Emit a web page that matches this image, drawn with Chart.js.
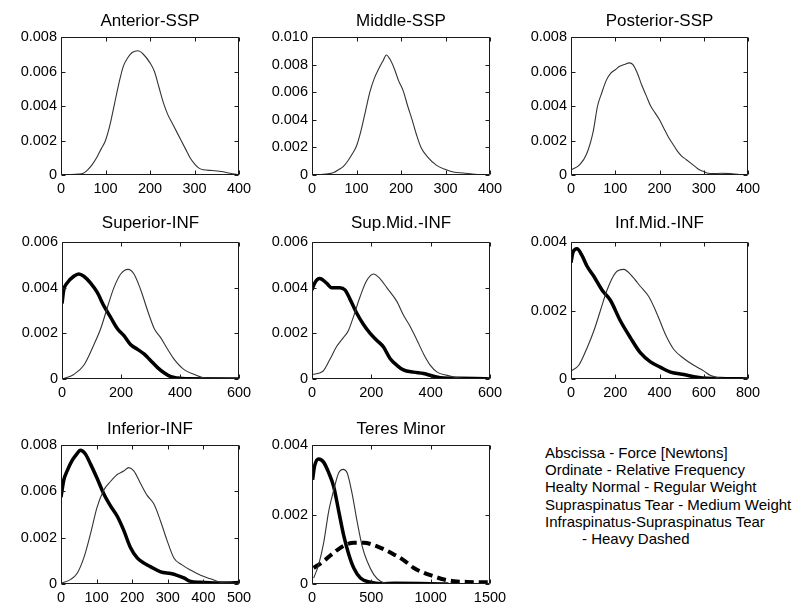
<!DOCTYPE html>
<html>
<head>
<meta charset="utf-8">
<script src="https://cdn.jsdelivr.net/npm/chart.js@4.4.1/dist/chart.umd.min.js"></script>
<style>
    html, body { margin: 0; padding: 0; background: #fff; }
    body { width: 800px; height: 611px; position: relative; overflow: hidden;
           font-family: "Liberation Sans", Arial, sans-serif; }
    canvas { position: absolute; }
    #notes { position: absolute; left: 545px; top: 444px; font-size: 15px; line-height: 17.2px; color: #000; white-space: nowrap; }
    #notes .indent { padding-left: 37px; }
</style>
</head>
<body>
<div id="notes">
    <div>Abscissa - Force [Newtons]</div>
    <div>Ordinate - Relative Frequency</div>
    <div>Healty Normal - Regular Weight</div>
    <div>Supraspinatus Tear - Medium Weight</div>
    <div>Infraspinatus-Supraspinatus Tear</div>
    <div class="indent">- Heavy Dashed</div>
</div>
<script>
// Tick values & labels
const xTicks400 = [0, 100, 200, 300, 400];
const xTicks500 = [0, 100, 200, 300, 400, 500];
const xTicks600 = [0, 200, 400, 600];
const xTicks800 = [0, 200, 400, 600, 800];
const xTicks1500 = [0, 500, 1000, 1500];
const yTicks004 = [0, .002, .004];
const yLabels004 = ['0', '0.002', '0.004'];
const yTicks006 = [0, .002, .004, .006];
const yLabels006 = ['0', '0.002', '0.004', '0.006'];
const yTicks008 = [0, .002, .004, .006, .008];
const yLabels008 = ['0', '0.002', '0.004', '0.006', '0.008'];
const yTicks010 = [0, .002, .004, .006, .008, .010];
const yLabels010 = ['0', '0.002', '0.004', '0.006', '0.008', '0.010'];
// Inferior-INF axis as printed: four evenly spaced ticks
const yTicksInf = [0, .00267, .00533, .008];
const yLabelsInf = ['0', '0.002', '0.006', '0.008'];

// Anterior-SSP
const antX = [15, 40, 50, 60, 70, 80, 90, 100, 110, 120, 130, 140, 150, 160, 173, 185, 200, 210, 220, 230, 240, 250, 260, 270, 280, 290, 300, 310, 320, 340, 360, 380, 400];
const antY = [.00003, .00005, .0001, .0003, .0006, .001, .0015, .002, .0029, .0041, .0053, .0063, .0068, .0071, .0072, .007, .0065, .006, .0051, .0042, .0035, .003, .0025, .002, .0015, .001, .00065, .0004, .0003, .00026, .0002, .0001, .00002];
// Middle-SSP
const midX = [0, 20, 40, 50, 60, 70, 80, 90, 100, 110, 120, 130, 140, 150, 160, 167, 175, 185, 195, 205, 215, 225, 235, 245, 260, 280, 300, 320, 340, 360, 380];
const midY = [.00002, .00003, .0001, .0002, .0004, .0006, .001, .0015, .0021, .0032, .0046, .006, .007, .0077, .0083, .0087, .0084, .0077, .0068, .0061, .005, .004, .0029, .002, .0013, .0007, .0004, .0002, .00015, .00007, .00001];
// Posterior-SSP
const posX = [0, 20, 35, 50, 60, 70, 80, 90, 100, 110, 120, 132, 140, 150, 160, 170, 180, 190, 200, 210, 220, 230, 240, 250, 260, 270, 280, 290, 300, 310, 320, 340, 360, 380, 400];
const posY = [.0003, .0006, .0012, .0025, .004, .0048, .0055, .0059, .0061, .0063, .0064, .0065, .0064, .0059, .0052, .0046, .004, .0036, .0032, .0027, .0022, .0018, .0014, .0011, .0009, .0007, .0005, .0003, .0002, .0001, .00008, .0001, .00008, .00003, .00001];

// Superior-INF
const supNormX = [0, 40, 74, 108, 131, 153, 176, 199, 224, 244, 267, 290, 313, 335, 358, 381, 415, 449, 483, 520, 600];
const supNormY = [0, .0002, .0006, .0015, .0022, .0031, .004, .0046, .0048, .0046, .0039, .003, .0022, .0018, .0013, .00085, .0004, .0002, .00004, 0, 0];
const supTearX = [0, 6, 17, 40, 57, 74, 97, 119, 142, 165, 188, 210, 233, 256, 278, 301, 324, 347, 369, 392, 420, 600];
const supTearY = [.0033, .0039, .0042, .0045, .0046, .0045, .0042, .0038, .0032, .0027, .0022, .0019, .0015, .0013, .0011, .0008, .0005, .00026, .0001, .00004, .00001, 0];
// Sup.Mid.-INF
const smNormX = [0, 37, 60, 82, 105, 122, 139, 162, 184, 207, 229, 252, 286, 308, 331, 354, 376, 399, 422, 455, 500, 550, 600];
const smNormY = [.0002, .00034, .00085, .0014, .0018, .0021, .0027, .0036, .0043, .0046, .0044, .004, .0034, .0028, .0023, .0017, .0011, .0006, .0003, .00016, .00004, .00001, 0];
const smTearX = [0, 9, 26, 49, 66, 94, 111, 128, 150, 173, 196, 218, 241, 263, 286, 308, 342, 376, 410, 444, 500, 550, 600];
const smTearY = [.0039, .0042, .0044, .0042, .004, .004, .0039, .0035, .0029, .0024, .002, .0017, .0014, .0009, .0006, .0004, .0003, .00024, .00012, .00004, .00003, .00002, 0];
// Inf.Mid.-INF
const imNormX = [0, 35, 72, 103, 133, 163, 201, 238, 276, 314, 352, 389, 427, 465, 510, 555, 601, 631, 676, 720, 800];
const imNormY = [.00023, .0004, .0009, .0014, .002, .0026, .0031, .0032, .003, .0027, .0024, .0019, .0013, .00086, .0006, .0004, .00023, .0001, .00003, 0, 0];
const imTearX = [0, 9, 27, 50, 72, 103, 140, 178, 223, 269, 314, 359, 405, 450, 510, 571, 616, 700, 800];
const imTearY = [.0034, .0037, .0038, .0036, .0033, .003, .0026, .0023, .0017, .0012, .00076, .0005, .00034, .0002, .00013, .00005, .00002, .00001, 0];
// Inferior-INF
const infNormX = [3, 26, 45, 64, 83, 101, 120, 139, 158, 176, 190, 205, 223, 242, 261, 280, 298, 317, 340, 364, 392, 420, 448, 486, 500];
const infNormY = [.00006, .00025, .0006, .0015, .0029, .0044, .0054, .0059, .0063, .0065, .0067, .0065, .0058, .0051, .0046, .0036, .0025, .0015, .0011, .0008, .0005, .0003, .0001, .00004, .00003];
const infTearX = [0, 8, 17, 31, 45, 54, 68, 83, 101, 120, 139, 158, 176, 195, 214, 233, 251, 280, 308, 326, 345, 364, 392, 429, 467, 500];
const infTearY = [.005, .006, .0065, .0071, .0075, .0077, .0075, .0069, .0061, .0052, .0045, .0039, .0031, .0021, .0015, .0012, .001, .0007, .0006, .0005, .00035, .00015, .0001, .00006, .00006, .00008];
// Teres Minor
const trNormX = [14, 56, 99, 141, 183, 225, 262, 296, 338, 380, 422, 464, 521, 577, 633, 800, 1150];
const trNormY = [.00017, .00056, .0012, .0021, .0027, .0032, .0033, .0032, .0026, .0018, .0011, .00066, .00027, .00008, .00002, 0, 0];
const trTearX = [5, 22, 56, 99, 141, 183, 225, 267, 310, 352, 408, 493, 577, 700, 1150];
const trTearY = [.003, .0034, .0036, .0035, .0032, .0028, .0021, .0014, .00085, .00046, .00017, .00005, .00001, .00002, 0];
const trBothX = [14, 99, 183, 267, 352, 436, 521, 605, 690, 774, 858, 943, 1027, 1112, 1196, 1309, 1421, 1500];
const trBothY = [.00046, .00066, .0009, .0011, .00119, .00119, .00112, .001, .00085, .00068, .00046, .00032, .00022, .00013, .00008, .00006, .00005, .00005];

// Layout
const YW = 60, PR = 26, PT = 40, XH = 30;
const FONT = '"Liberation Sans", Arial, sans-serif';
const STYLE = {
    thin: { borderColor: '#333', borderWidth: 1.1 },
    thick: { borderColor: '#000', borderWidth: 3.5 },
    dash: { borderColor: '#000', borderWidth: 4, borderDash: [9, 5] }
};

const PANELS = [
    { title: 'Anterior-SSP', box: [61, 37, 238, 174], gap: 15.5, xt: xTicks400, yt: yTicks008, yl: yLabels008, series: [[antX, antY, 'thin']] },
    { title: 'Middle-SSP', box: [312, 37, 489, 174], gap: 15.5, xt: xTicks400, yt: yTicks010, yl: yLabels010, series: [[midX, midY, 'thin']] },
    { title: 'Posterior-SSP', box: [571, 37, 747, 174], gap: 15.5, xt: xTicks400, yt: yTicks008, yl: yLabels008, series: [[posX, posY, 'thin']] },
    { title: 'Superior-INF', box: [62, 242, 238, 378], gap: 18.5, xt: xTicks600, yt: yTicks006, yl: yLabels006,
      series: [[supNormX, supNormY, 'thin'], [supTearX, supTearY, 'thick']] },
    { title: 'Sup.Mid.-INF', box: [312, 242, 489, 378], gap: 18.5, xt: xTicks600, yt: yTicks006, yl: yLabels006,
      series: [[smNormX, smNormY, 'thin'], [smTearX, smTearY, 'thick']] },
    { title: 'Inf.Mid.-INF', box: [571, 242, 747, 378], gap: 18.5, xt: xTicks800, yt: yTicks004, yl: yLabels004,
      series: [[imNormX, imNormY, 'thin'], [imTearX, imTearY, 'thick']] },
    { title: 'Inferior-INF', box: [61, 445, 238, 583], gap: 16, xt: xTicks500, yt: yTicksInf, yl: yLabelsInf,
      series: [[infNormX, infNormY, 'thin'], [infTearX, infTearY, 'thick']] },
    { title: 'Teres Minor', box: [312, 445, 489, 583], gap: 16, xt: xTicks1500, yt: yTicks004, yl: yLabels004,
      series: [[trNormX, trNormY, 'thin'], [trTearX, trTearY, 'thick'], [trBothX, trBothY, 'dash']] }
];

const pts = (xs, ys) => xs.map((x, i) => ({ x, y: ys[i] }));

// Matlab-style box with inward ticks on all sides + title
const boxPlugin = {
    id: 'box',
    afterDraw(chart, _, o) {
        const { ctx, chartArea: a, scales: { x, y } } = chart;
        const l = a.left + .5, r = a.right - .5, t = a.top + .5, b = a.bottom - .5;
        ctx.save();
        ctx.strokeStyle = '#1a1a1a';
        ctx.lineWidth = 1;
        ctx.beginPath();
        ctx.rect(l, t, r - l, b - t);
        x.ticks.forEach(tk => {
            const p = Math.round(x.getPixelForValue(tk.value)) + .5;
            ctx.moveTo(p, b); ctx.lineTo(p, b - 4);
            ctx.moveTo(p, t); ctx.lineTo(p, t + 4);
        });
        y.ticks.forEach(tk => {
            const p = Math.round(y.getPixelForValue(tk.value)) + .5;
            ctx.moveTo(l, p); ctx.lineTo(l + 4, p);
            ctx.moveTo(r, p); ctx.lineTo(r - 4, p);
        });
        ctx.stroke();
        ctx.fillStyle = '#000';
        ctx.font = `17px ${FONT}`;
        ctx.textAlign = 'center';
        ctx.textBaseline = 'middle';
        ctx.fillText(o.text, (a.left + a.right) / 2, a.top - o.gap);
        ctx.restore();
    }
};

PANELS.forEach(p => {
    const [L, T, R, B] = p.box;
    const W = R + 1 - L, H = B + 1 - T;
    const cv = document.createElement('canvas');
    cv.width = YW + W + PR;
    cv.height = PT + H + XH;
    cv.style.left = (L - YW) + 'px';
    cv.style.top = (T - PT) + 'px';
    document.body.appendChild(cv);

    const tickFont = { family: FONT, size: 14.5 };
    new Chart(cv, {
        type: 'line',
        data: {
            datasets: p.series.map(([xs, ys, st]) => ({
                data: pts(xs, ys), ...STYLE[st],
                pointRadius: 0, fill: false, cubicInterpolationMode: 'monotone'
            }))
        },
        options: {
            responsive: false,
            animation: false,
            devicePixelRatio: 1,
            layout: { padding: { top: PT, right: PR, left: 0, bottom: 0 } },
            plugins: {
                legend: { display: false },
                tooltip: { enabled: false },
                box: { text: p.title, gap: p.gap }
            },
            scales: {
                x: {
                    type: 'linear', min: p.xt[0], max: p.xt[p.xt.length - 1],
                    grid: { display: false, drawTicks: false },
                    border: { display: false },
                    afterBuildTicks: s => { s.ticks = p.xt.map(value => ({ value })); },
                    afterFit: s => { s.height = XH; },
                    ticks: { padding: 5, color: '#000', font: tickFont, maxRotation: 0, autoSkip: false, callback: v => String(v) }
                },
                y: {
                    type: 'linear', min: 0, max: p.yt[p.yt.length - 1],
                    grid: { display: false, drawTicks: false },
                    border: { display: false },
                    afterBuildTicks: s => { s.ticks = p.yt.map(value => ({ value })); },
                    afterFit: s => { s.width = YW; },
                    ticks: { padding: 4, color: '#000', font: tickFont, autoSkip: false, callback: (v, i) => p.yl[i] }
                }
            }
        },
        plugins: [boxPlugin]
    });
});
</script>
</body>
</html>
